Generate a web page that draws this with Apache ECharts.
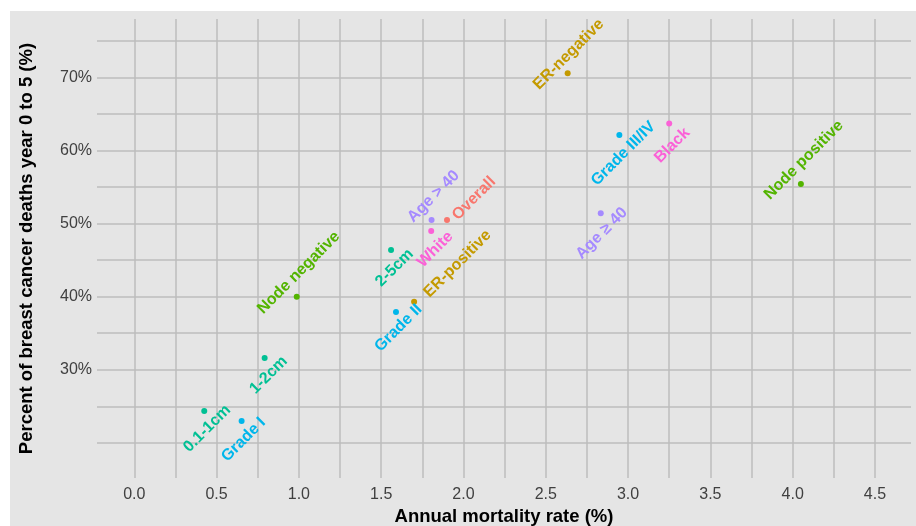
<!DOCTYPE html>
<html>
<head>
<meta charset="utf-8">
<script src="https://cdn.jsdelivr.net/npm/echarts@6/dist/echarts.min.js"></script>
<style>
html,body{margin:0;padding:0;background:#ffffff;overflow:hidden;}
#bg{position:absolute;left:10px;top:11px;width:906px;height:515px;background:#e5e5e5;}
#c{position:absolute;left:0;top:0;width:916px;height:526px;}
</style>
</head>
<body>
<div id="bg"></div>
<div id="c"></div>
<script>
// ---- data ----
const names  = ['Overall','ER-negative','ER-positive','Node negative','Node positive','0.1-1cm','1-2cm','2-5cm','Grade I','Grade II','Grade III/IV','Age > 40','Age \u2265 40','White','Black'];
const groups = ['Overall','ER','ER','Node','Node','Size','Size','Size','Grade','Grade','Grade','Age','Age','Race','Race'];
const mortality = [1.90, 2.633, 1.70, 0.987, 4.05, 0.425, 0.792, 1.56, 0.652, 1.59, 2.947, 1.806, 2.834, 1.804, 3.25];
const pctDeaths = [50.5, 70.55, 39.3, 40.0, 55.4, 24.35, 31.6, 46.4, 22.98, 37.9, 62.1, 50.5, 51.4, 49.0, 63.7];
const xTickLabels = [0, 0.5, 1, 1.5, 2, 2.5, 3, 3.5, 4, 4.5];
const xGridValues = [0,0.25,0.5,0.75,1,1.25,1.5,1.75,2,2.25,2.5,2.75,3,3.25,3.5,3.75,4,4.25,4.5];
const yTickLabels = [30, 40, 50, 60, 70];
const yGridValues = [20,25,30,35,40,45,50,55,60,65,70,75];

// ---- styling ----
const groupOrder = ['Overall','ER','Node','Size','Grade','Age','Race'];
const groupColors = {Overall:'#F8766D', ER:'#C49A00', Node:'#53B400', Size:'#00C094', Grade:'#00B6EB', Age:'#A58AFF', Race:'#FB61D7'};
// label centre displacement on screen (px) relative to the point
const labelShift = {
  'Overall':[27,-21.5], 'ER-negative':[1,-19], 'ER-positive':[43.5,-38],
  'Node negative':[2,-24], 'Node positive':[3,-24],
  '0.1-1cm':[3,17.5], '1-2cm':[4,17], '2-5cm':[3.5,18],
  'Grade I':[2,18.5], 'Grade II':[2.5,16], 'Grade III/IV':[4,18.5],
  'Age > 40':[2,-23.5], 'Age \u2265 40':[1,20], 'White':[4,18.5], 'Black':[3,22]
};
const ROT = 45;
function localOffset(s){
  const t = ROT*Math.PI/180, c = Math.cos(t), sn = Math.sin(t);
  return [s[0]*c - s[1]*sn, s[0]*sn + s[1]*c];
}
const FONT = 'Arial, "Liberation Sans", sans-serif';

const series = groupOrder.map(g => {
  const data = [];
  names.forEach((n,i) => {
    if (groups[i] !== g) return;
    data.push({
      name: n,
      value: [mortality[i], pctDeaths[i]],
      label: { offset: localOffset(labelShift[n]) }
    });
  });
  return {
    type: 'scatter',
    name: g,
    symbolSize: 6,
    itemStyle: { color: groupColors[g], opacity: 1 },
    label: {
      show: true, position: 'inside', rotate: ROT,
      align: 'center', verticalAlign: 'middle',
      formatter: p => p.name,
      color: groupColors[g],
      fontFamily: FONT,
      fontWeight: 'bold',
      fontSize: 16
    },
    emphasis: { disabled: true },
    data: data
  };
});

const chart = echarts.init(document.getElementById('c'), null, {renderer:'canvas'});
chart.setOption({
  backgroundColor: 'transparent',
  animation: false,
  grid: { left: 97, right: 5, top: 19, bottom: 48, containLabel: false, outerBoundsMode: 'none' },
  xAxis: {
    type: 'value', min: -0.2266, max: 4.719,
    name: 'Annual mortality rate (%)', nameLocation: 'middle', nameGap: 27,
    nameTextStyle: { fontFamily: FONT, fontSize: 18.5, fontWeight: 'bold', color: '#000' },
    axisLine: { show: false },
    axisTick: { show: false, customValues: xGridValues },
    axisLabel: { customValues: xTickLabels, formatter: v => v.toFixed(1), color: '#404040', fontSize: 16, fontFamily: FONT, margin: 9 },
    splitLine: { show: true, lineStyle: { color: '#bdbdbd', width: 1.5 } }
  },
  yAxis: {
    type: 'value', min: 15.2, max: 77.98,
    name: 'Percent of breast cancer deaths year 0 to 5 (%)', nameLocation: 'middle', nameGap: 61, nameRotate: 90,
    nameTextStyle: { fontFamily: FONT, fontSize: 18.5, fontWeight: 'bold', color: '#000' },
    axisLine: { show: false },
    axisTick: { show: false, customValues: yGridValues },
    axisLabel: { customValues: yTickLabels, formatter: v => v + '%', color: '#404040', fontSize: 16, fontFamily: FONT, margin: 5 },
    splitLine: { show: true, lineStyle: { color: '#bdbdbd', width: 1.5 } }
  },
  series: series
});
</script>
</body>
</html>
